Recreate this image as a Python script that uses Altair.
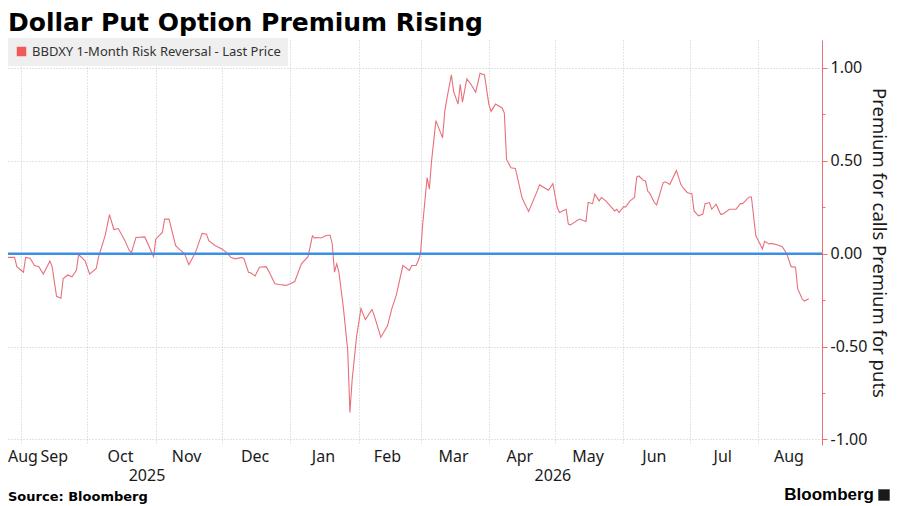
import altair as alt
import pandas as pd

title_text = "Dollar Put Option Premium Rising"
series_name = "BBDXY 1-Month Risk Reversal - Last Price"
axis_title = "Premium for calls Premium for puts"
source_text = "Source: Bloomberg"
brand_text = "Bloomberg"

dates = [
    "2025-08-26", "2025-08-29", "2025-08-30", "2025-09-02", "2025-09-03", "2025-09-05",
    "2025-09-07", "2025-09-09", "2025-09-11", "2025-09-14", "2025-09-15", "2025-09-17",
    "2025-09-19", "2025-09-20", "2025-09-22", "2025-09-24", "2025-09-26", "2025-09-27",
    "2025-09-30", "2025-10-02", "2025-10-05", "2025-10-06", "2025-10-09", "2025-10-11",
    "2025-10-13", "2025-10-15", "2025-10-18", "2025-10-20", "2025-10-21", "2025-10-23",
    "2025-10-27", "2025-10-31", "2025-11-01", "2025-11-04", "2025-11-05", "2025-11-07",
    "2025-11-10", "2025-11-12", "2025-11-14", "2025-11-16", "2025-11-19", "2025-11-22",
    "2025-11-24", "2025-11-25", "2025-11-28", "2025-12-01", "2025-12-03", "2025-12-05",
    "2025-12-07", "2025-12-10", "2025-12-11", "2025-12-13", "2025-12-14", "2025-12-16",
    "2025-12-18", "2025-12-21", "2025-12-22", "2025-12-25", "2025-12-27", "2025-12-30",
    "2026-01-01", "2026-01-03", "2026-01-06", "2026-01-09", "2026-01-11", "2026-01-12",
    "2026-01-13", "2026-01-15", "2026-01-17", "2026-01-19", "2026-01-20", "2026-01-21",
    "2026-01-22", "2026-01-23", "2026-01-25", "2026-01-27", "2026-01-28", "2026-01-29",
    "2026-01-31", "2026-02-02", "2026-02-04", "2026-02-07", "2026-02-08", "2026-02-11",
    "2026-02-14", "2026-02-16", "2026-02-18", "2026-02-21", "2026-02-24", "2026-02-25",
    "2026-02-27", "2026-02-28", "2026-03-01", "2026-03-02", "2026-03-04", "2026-03-05",
    "2026-03-06", "2026-03-08", "2026-03-11", "2026-03-12", "2026-03-13", "2026-03-15",
    "2026-03-16", "2026-03-18", "2026-03-19", "2026-03-20", "2026-03-22", "2026-03-24",
    "2026-03-26", "2026-03-28", "2026-03-30", "2026-04-01", "2026-04-02", "2026-04-04",
    "2026-04-07", "2026-04-08", "2026-04-09", "2026-04-11", "2026-04-13", "2026-04-16",
    "2026-04-17", "2026-04-19", "2026-04-22", "2026-04-24", "2026-04-28", "2026-04-30",
    "2026-05-02", "2026-05-03", "2026-05-06", "2026-05-07", "2026-05-08", "2026-05-12",
    "2026-05-15", "2026-05-16", "2026-05-18", "2026-05-19", "2026-05-21", "2026-05-22",
    "2026-05-24", "2026-05-26", "2026-05-28", "2026-05-29", "2026-05-30", "2026-06-01",
    "2026-06-02", "2026-06-04", "2026-06-06", "2026-06-07", "2026-06-08", "2026-06-10",
    "2026-06-11", "2026-06-12", "2026-06-13", "2026-06-15", "2026-06-16", "2026-06-19",
    "2026-06-20", "2026-06-22", "2026-06-25", "2026-06-27", "2026-06-28", "2026-06-30",
    "2026-07-02", "2026-07-03", "2026-07-05", "2026-07-07", "2026-07-08", "2026-07-10",
    "2026-07-11", "2026-07-13", "2026-07-15", "2026-07-16", "2026-07-19", "2026-07-22",
    "2026-07-24", "2026-07-25", "2026-07-28", "2026-07-29", "2026-07-31", "2026-08-01",
    "2026-08-03", "2026-08-04", "2026-08-06", "2026-08-07", "2026-08-10", "2026-08-12",
    "2026-08-14", "2026-08-16", "2026-08-18", "2026-08-19", "2026-08-21", "2026-08-22",
    "2026-08-24",
]

values = [
    -0.02, -0.02, -0.07, -0.10, -0.02, -0.025,
    -0.064, -0.07, -0.11, -0.04, -0.07, -0.23,
    -0.24, -0.135, -0.115, -0.125, -0.09, -0.005,
    -0.04, -0.11, -0.08, -0.02, 0.096, 0.21,
    0.13, 0.135, 0.07, 0.016, 0.007, 0.087,
    0.09, -0.016, 0.079, 0.114, 0.186, 0.186,
    0.043, 0.02, 0.0, -0.06, 0.007, 0.109,
    0.105, 0.07, 0.043, 0.025, 0.007, -0.02,
    -0.028, -0.02, -0.028, -0.10, -0.103, -0.12,
    -0.073, -0.07, -0.09, -0.162, -0.166, -0.171,
    -0.162, -0.15, -0.055, -0.016, 0.096, 0.084,
    0.087, 0.084, 0.096, 0.10, 0.052, -0.10,
    -0.055, -0.10, -0.288, -0.52, -0.855, -0.68,
    -0.448, -0.296, -0.355, -0.30, -0.332, -0.45,
    -0.39, -0.296, -0.225, -0.064, -0.09, -0.064,
    -0.064, -0.037, 0.0, 0.16, 0.41, 0.347,
    0.498, 0.716, 0.623, 0.766, 0.837, 0.962,
    0.873, 0.805, 0.912, 0.816, 0.941, 0.909,
    0.869, 0.971, 0.962, 0.802, 0.766, 0.805,
    0.784, 0.757, 0.507, 0.462, 0.459, 0.302,
    0.275, 0.227, 0.311, 0.37, 0.341, 0.377,
    0.248, 0.221, 0.239, 0.159, 0.155, 0.186,
    0.173, 0.275, 0.269, 0.32, 0.284, 0.302,
    0.284, 0.257, 0.23, 0.239, 0.221, 0.252,
    0.252, 0.284, 0.302, 0.412, 0.418, 0.395,
    0.391, 0.337, 0.323, 0.275, 0.262, 0.382,
    0.387, 0.373, 0.448, 0.373, 0.355, 0.328,
    0.323, 0.23, 0.204, 0.213, 0.269, 0.275,
    0.239, 0.266, 0.213, 0.213, 0.239, 0.239,
    0.269, 0.269, 0.305, 0.305, 0.096, 0.073,
    0.025, 0.066, 0.052, 0.055, 0.047, 0.037,
    0.0, -0.07, -0.073, -0.19, -0.243, -0.255,
    -0.243,
]

grid_months = [
    "2025-09-01", "2025-10-01", "2025-11-01", "2025-12-01", "2026-01-01", "2026-02-01",
    "2026-03-01", "2026-04-01", "2026-05-01", "2026-06-01", "2026-07-01", "2026-08-01",
]
month_labels = ["Sep", "Oct", "Nov", "Dec", "Jan", "Feb", "Mar", "Apr", "May", "Jun", "Jul", "Aug"]
month_label_dates = [
    "2025-09-16", "2025-10-16", "2025-11-15", "2025-12-16", "2026-01-16", "2026-02-14",
    "2026-03-16", "2026-04-15", "2026-05-16", "2026-06-15", "2026-07-16", "2026-08-15",
]
first_month_label = ["Aug"]
first_month_date = ["2025-08-26"]
year_labels = ["2025", "2026"]
year_label_dates = ["2025-10-28", "2026-04-30"]
y_ticks = [-1.0, -0.75, -0.5, -0.25, 0.0, 0.25, 0.5, 0.75, 1.0]
x_domain = ["2025-08-26", "2026-08-30"]
y_domain = [-1.03, 1.15]

W, H = 814, 405
LINE_COLOR = "#e8707a"
LEGEND_COLOR = "#f05a5a"
AXIS_COLOR = "#e57373"
ZERO_COLOR = "#3d8fe3"
GRID_COLOR = "#c9c9c9"
TEXT_COLOR = "#1a1a1a"
FONT = "Noto Sans"


def dt(s):
    y, m, d = (int(p) for p in s.split("-"))
    return alt.DateTime(year=y, month=m, date=d)


xscale = alt.Scale(domain=[dt(s) for s in x_domain])
yscale = alt.Scale(domain=y_domain, nice=False, zero=False)

major_test = "abs(datum.value * 2 - round(datum.value * 2)) < 0.001"

df = pd.DataFrame({"date": dates, "value": values, "series": series_name})

line = alt.Chart(df).mark_line(strokeWidth=1.1, interpolate="linear").encode(
    x=alt.X(
        "date:T",
        scale=xscale,
        axis=alt.Axis(
            values=[dt(s) for s in grid_months],
            grid=True,
            gridDash=[1, 2],
            gridColor=GRID_COLOR,
            labels=False,
            ticks=False,
            domain=False,
            title=None,
        ),
    ),
    y=alt.Y(
        "value:Q",
        scale=yscale,
        axis=alt.Axis(
            orient="right",
            values=y_ticks,
            grid=True,
            gridDash=[1, 2],
            gridColor=GRID_COLOR,
            gridOpacity={"condition": {"test": major_test, "value": 1}, "value": 0},
            domainColor=AXIS_COLOR,
            tickColor=AXIS_COLOR,
            tickSize={"condition": {"test": major_test, "value": 5}, "value": 3},
            labelExpr=(
                f"{major_test} ? (datum.value < 0 ? '-' : '') + format(abs(datum.value), '.2f') : ''"
            ),
            labelFont=FONT,
            labelFontSize=16,
            labelColor=TEXT_COLOR,
            labelPadding=3,
            title=axis_title,
            titleFont=FONT,
            titleFontSize=18.5,
            titleFontWeight="normal",
            titleColor=TEXT_COLOR,
            titleAngle=90,
            titlePadding=2,
        ),
    ),
    color=alt.Color(
        "series:N",
        scale=alt.Scale(domain=[series_name], range=[LINE_COLOR]),
        legend=alt.Legend(
            title=None,
            orient="none",
            legendX=0,
            legendY=-2,
            fillColor="#efefef",
            padding=7,
            symbolType="square",
            symbolSize=90,
            symbolFillColor=LEGEND_COLOR,
            symbolStrokeColor=LEGEND_COLOR,
            symbolStrokeWidth=0,
            labelFont=FONT,
            labelFontSize=13,
            labelColor="#333333",
            labelLimit=600,
            labelOffset=4,
        ),
    ),
)

zero = alt.Chart(pd.DataFrame({"value": [0.0]})).mark_rule(
    color=ZERO_COLOR, strokeWidth=2.5
).encode(y=alt.Y("value:Q", scale=yscale))

month_df = pd.DataFrame({"date": month_label_dates, "t": month_labels})
months = alt.Chart(month_df).mark_text(
    font=FONT, fontSize=16, color=TEXT_COLOR, align="center", baseline="middle"
).encode(
    x=alt.X("date:T", scale=xscale),
    y=alt.value(H + 12),
    text="t:N",
)

first_df = pd.DataFrame({"date": first_month_date, "t": first_month_label})
first_month = alt.Chart(first_df).mark_text(
    font=FONT, fontSize=16, color=TEXT_COLOR, align="left", baseline="middle"
).encode(
    x=alt.X("date:T", scale=xscale),
    y=alt.value(H + 12),
    text="t:N",
)

year_df = pd.DataFrame({"date": year_label_dates, "t": year_labels})
years = alt.Chart(year_df).mark_text(
    font=FONT, fontSize=16, color=TEXT_COLOR, align="center", baseline="middle"
).encode(
    x=alt.X("date:T", scale=xscale),
    y=alt.value(H + 31),
    text="t:N",
)

title = alt.Chart(pd.DataFrame({"t": [title_text]})).mark_text(
    font="DejaVu Sans", fontSize=25, fontWeight="bold", color="#000000",
    align="left", baseline="alphabetic"
).encode(x=alt.value(0), y=alt.value(-9), text="t:N")

source = alt.Chart(pd.DataFrame({"t": [source_text]})).mark_text(
    font="DejaVu Sans", fontSize=13, fontWeight="bold", color="#000000",
    align="left", baseline="alphabetic"
).encode(x=alt.value(0), y=alt.value(H + 56), text="t:N")

brand = alt.Chart(pd.DataFrame({"t": [brand_text]})).mark_text(
    font="Liberation Sans", fontSize=17, fontWeight="bold", color="#000000",
    align="right", baseline="alphabetic"
).encode(x=alt.value(W + 52), y=alt.value(H + 55), text="t:N")

logo = alt.Chart(pd.DataFrame({"t": [brand_text]})).mark_square(
    size=130, color="#1a1a1a", opacity=1, cornerRadius=2
).encode(x=alt.value(W + 62), y=alt.value(H + 50))

chart = alt.layer(
    line, zero, months, first_month, years, title, source, brand, logo
).properties(
    width=W,
    height=H,
    padding={"left": 0, "top": 32, "right": 70, "bottom": 66},
    autosize=alt.AutoSizeParams(type="none"),
    background="#ffffff",
).configure_view(stroke=None)

chart.save("out.html", embed_options={"renderer": "svg", "actions": False})
